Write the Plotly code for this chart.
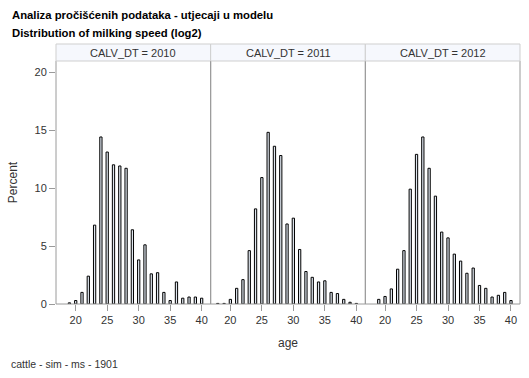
import plotly.graph_objects as go

ages = [18, 19, 20, 21, 22, 23, 24, 25, 26, 27, 28, 29, 30, 31, 32, 33, 34, 35, 36, 37, 38, 39, 40]
years = ["2010", "2011", "2012"]
pct_2010 = [None, 0.1, 0.3, 1.0, 2.4, 6.8, 14.4, 13.1, 12.0, 11.9, 11.7, 6.4, 3.8, 5.1, 2.6, 2.7, 1.0, 0.3, 1.9, 0.5, 0.6, 0.6, 0.5]
pct_2011 = [0.05, 0.05, 0.4, 1.35, 2.1, 4.6, 8.2, 10.9, 14.8, 13.6, 12.8, 6.9, 7.4, 4.7, 2.8, 2.3, 1.9, 2.0, 1.0, 0.9, 0.4, 0.15, 0.05]
pct_2012 = [None, 0.4, 0.65, 1.3, 3.0, 4.6, 9.9, 12.9, 14.4, 11.7, 9.3, 6.2, 5.7, 4.3, 3.7, 2.65, 3.1, 1.6, 1.35, 0.6, 0.75, 1.0, 0.3]
series = [pct_2010, pct_2011, pct_2012]
x_ticks = [20, 25, 30, 35, 40]
y_ticks = [0, 5, 10, 15, 20]

title1 = "Analiza pročišćenih podataka - utjecaji u modelu"
title2 = "Distribution of milking speed (log2)"
footnote = "cattle - sim - ms - 1901"

W, H = 529, 378
L, R, T, B = 56, 9, 44, 74
plot_h = H - T - B
hdr = 17
ytop = (plot_h - hdr) / plot_h

FONT = "Liberation Sans, Arial, sans-serif"
fig = go.Figure()

for i, vals in enumerate(series):
    ax = "" if i == 0 else str(i + 1)
    fig.add_trace(go.Bar(
        x=ages, y=vals, width=0.36,
        marker=dict(color="#dfe6ef", line=dict(color="black", width=1)),
        xaxis="x" + ax, yaxis="y" + ax, showlegend=False, hoverinfo="skip",
    ))

layout = dict(
    width=W, height=H,
    margin=dict(l=L, r=R, t=T, b=B),
    paper_bgcolor="white", plot_bgcolor="white",
    bargap=0,
    font=dict(family=FONT, size=11, color="#333"),
)
shapes = []
annotations = []
for i in range(3):
    ax = "" if i == 0 else str(i + 1)
    d0, d1 = i / 3, (i + 1) / 3
    layout["xaxis" + ax] = dict(
        domain=[d0, d1], range=[16.87, 41.43], tickvals=x_ticks,
        ticks="outside", ticklen=6, tickcolor="#9a9a9a", showgrid=False,
        zeroline=False, showline=False, tickfont=dict(size=11, color="#333"),
        anchor="y" + ax, fixedrange=True,
    )
    ydef = dict(
        domain=[0, ytop], range=[0, 20.95], showgrid=False, zeroline=False,
        showline=False, anchor="x" + ax, fixedrange=True,
    )
    if i == 0:
        ydef.update(tickvals=y_ticks, ticks="outside", ticklen=6, tickcolor="#9a9a9a",
                    tickfont=dict(size=11, color="#333"),
                    title=dict(text="Percent", font=dict(size=12, color="#333"), standoff=14))
    else:
        ydef.update(showticklabels=False, ticks="", matches="y")
    layout["yaxis" + ax] = ydef
    for xx in (d0, d1):
        shapes.append(dict(type="line", xref="paper", yref="paper", x0=xx, x1=xx, y0=0, y1=ytop,
                           line=dict(color="#9a9a9a", width=1)))
    shapes.append(dict(type="rect", xref="paper", yref="paper", x0=d0, x1=d1, y0=ytop, y1=1,
                       fillcolor="#f6f8fd", line=dict(color="#cfcfcf", width=1)))
    annotations.append(dict(text="CALV_DT = " + years[i], xref="paper", yref="paper",
                            x=(d0 + d1) / 2, y=(ytop + 1) / 2, showarrow=False,
                            xanchor="center", yanchor="middle",
                            font=dict(size=11, color="#333")))

shapes.append(dict(type="line", xref="paper", yref="paper", x0=0, x1=1, y0=0, y1=0,
                   line=dict(color="#9a9a9a", width=1)))

pw = W - L - R
def px_x(p):
    return (p - L) / pw
def px_y(p):
    return (H - B - p) / plot_h

annotations += [
    dict(text="<b>" + title1 + "</b>", xref="paper", yref="paper", x=px_x(10), y=px_y(15),
         xanchor="left", yanchor="middle", showarrow=False, font=dict(size=11.3, color="black")),
    dict(text="<b>" + title2 + "</b>", xref="paper", yref="paper", x=px_x(10), y=px_y(33),
         xanchor="left", yanchor="middle", showarrow=False, font=dict(size=11.3, color="black")),
    dict(text="age", xref="paper", yref="paper", x=0.5, y=px_y(343),
         xanchor="center", yanchor="middle", showarrow=False, font=dict(size=12, color="#333")),
    dict(text=footnote, xref="paper", yref="paper", x=px_x(9), y=px_y(364),
         xanchor="left", yanchor="middle", showarrow=False, font=dict(size=10.5, color="#333")),
]
layout["shapes"] = shapes
layout["annotations"] = annotations
fig.update_layout(**layout)
fig.write_html("out.html", config={"displayModeBar": False, "staticPlot": True},
               post_script="document.body.style.margin='0';document.body.style.padding='0';")
